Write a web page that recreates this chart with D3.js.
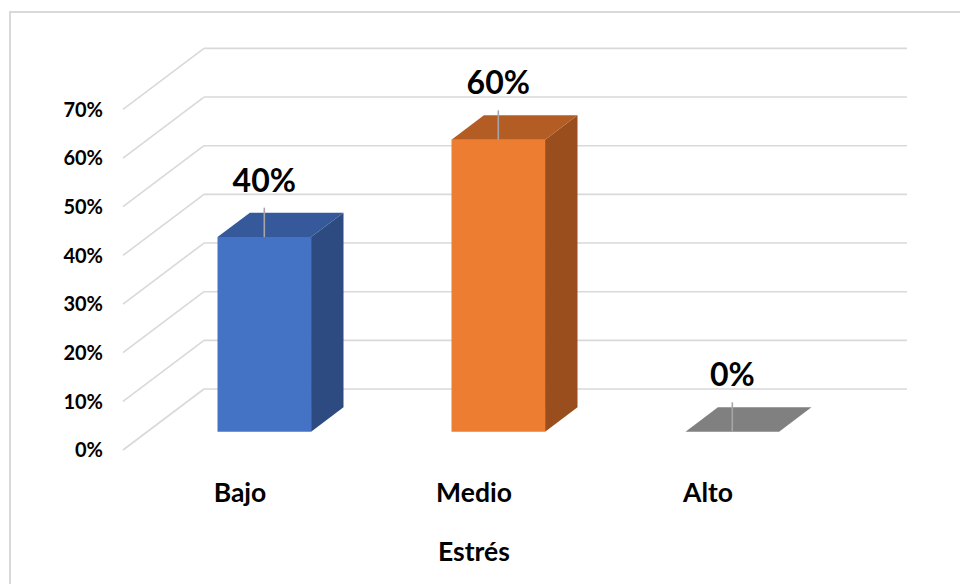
<!DOCTYPE html>
<html>
<head>
<meta charset="utf-8">
<script src="https://cdn.jsdelivr.net/npm/d3@7"></script>
<style>
  html, body { margin: 0; padding: 0; background: #fff; }
  svg { display: block; }
  text { font-family: Lato, "Open Sans", "Noto Sans", sans-serif; font-weight: bold; }
</style>
</head>
<body>
<svg id="chart" width="960" height="584"></svg>
<script>
// Nivel de estrés: porcentaje por categoría
const categories = ["Bajo", "Medio", "Alto"];
const values = [0.40, 0.60, 0.00];
const tickValues = [0, 0.1, 0.2, 0.3, 0.4, 0.5, 0.6, 0.7];
const axisTitle = "Estrés";

// Face colours (front, top, side) per category
const frontColors = ["#4472C4", "#ED7D31", "#A5A5A5"];
const topColors   = ["#35599B", "#B35C23", "#808080"];
const sideColors  = ["#2D4B80", "#9A4D1D", "#6E6E6E"];

const svg = d3.select("#chart");

// Outer chart border
svg.append("rect")
  .attr("x", 10).attr("y", 12)
  .attr("width", 980).attr("height", 600)
  .attr("fill", "#fff")
  .attr("stroke", "#d9d9d9").attr("stroke-width", 2);

// 3D projection: depth vector of the plot box (front -> back)
const DEPTH_X = 81, DEPTH_Y = -61;
const x = d3.scaleBand().domain(categories).range([123, 825]).padding(0);
const y = d3.scaleLinear().domain([0, 0.7]).range([450, 109.4]);
const proj = (px, v, d) => [px + d * DEPTH_X, y(v) + d * DEPTH_Y];

const grid = svg.append("g")
  .attr("stroke", "#d9d9d9").attr("stroke-width", 1.6).attr("fill", "none");

// Side wall (diagonal) gridlines and back wall gridlines
tickValues.forEach(t => {
  const f = proj(x.range()[0], t, 0);
  const b = proj(x.range()[0], t, 1);
  const e = proj(x.range()[1], t, 1);
  grid.append("line").attr("x1", f[0]).attr("y1", f[1]).attr("x2", b[0]).attr("y2", b[1]);
  grid.append("line").attr("x1", b[0]).attr("y1", b[1]).attr("x2", e[0] + 1).attr("y2", e[1]);
});

// Y axis tick labels
svg.append("g").selectAll("text")
  .data(tickValues)
  .join("text")
  .attr("x", 103)
  .attr("y", d => y(d))
  .attr("dy", "0.36em")
  .attr("text-anchor", "end")
  .attr("font-size", 20)
  .attr("fill", "#000")
  .text(d3.format(".0%"));

// Bars (front face, top, side)
const D0 = 0.3, D1 = 0.7;
const bars = svg.append("g");
categories.forEach((c, i) => {
  const v = values[i];
  const bw = x.bandwidth() * 0.4;
  const x0 = x(c) + x.bandwidth() * 0.3;
  const x1 = x0 + bw;
  const fTL = proj(x0, v, D0), fTR = proj(x1, v, D0);
  const fBL = proj(x0, 0, D0), fBR = proj(x1, 0, D0);
  const bTL = proj(x0, v, D1), bTR = proj(x1, v, D1);
  const bBR = proj(x1, 0, D1);
  const g = bars.append("g");
  if (v > 0) {
    g.append("polygon")
      .attr("points", [fTL, fTR, fBR, fBL].map(p => p.join(",")).join(" "))
      .attr("fill", frontColors[i]);
    g.append("polygon")
      .attr("points", [fTR, bTR, bBR, fBR].map(p => p.join(",")).join(" "))
      .attr("fill", sideColors[i]);
  }
  g.append("polygon")
    .attr("points", [fTL, fTR, bTR, bTL].map(p => p.join(",")).join(" "))
    .attr("fill", topColors[i]);

  // Data label with leader line, centred on the front face
  const cx = (fTL[0] + fTR[0]) / 2;
  const labelY = bTL[1] - 21;
  g.append("line")
    .attr("x1", cx).attr("x2", cx)
    .attr("y1", labelY + 16).attr("y2", fTL[1])
    .attr("stroke", "#a6a6a6").attr("stroke-width", 1.6);
  g.append("text")
    .attr("x", cx).attr("y", labelY)
    .attr("text-anchor", "middle")
    .attr("font-size", 32)
    .attr("fill", "#000")
    .text(d3.format(".0%")(v));
});

// Category labels at the front edge of the floor
svg.append("g").selectAll("text")
  .data(categories)
  .join("text")
  .attr("x", d => x(d) + x.bandwidth() / 2)
  .attr("y", 502)
  .attr("text-anchor", "middle")
  .attr("font-size", 26.5)
  .attr("fill", "#000")
  .text(d => d);

// Axis title
svg.append("text")
  .attr("x", (x.range()[0] + x.range()[1]) / 2)
  .attr("y", 561)
  .attr("text-anchor", "middle")
  .attr("font-size", 26.5)
  .attr("fill", "#000")
  .text(axisTitle);
</script>
</body>
</html>
